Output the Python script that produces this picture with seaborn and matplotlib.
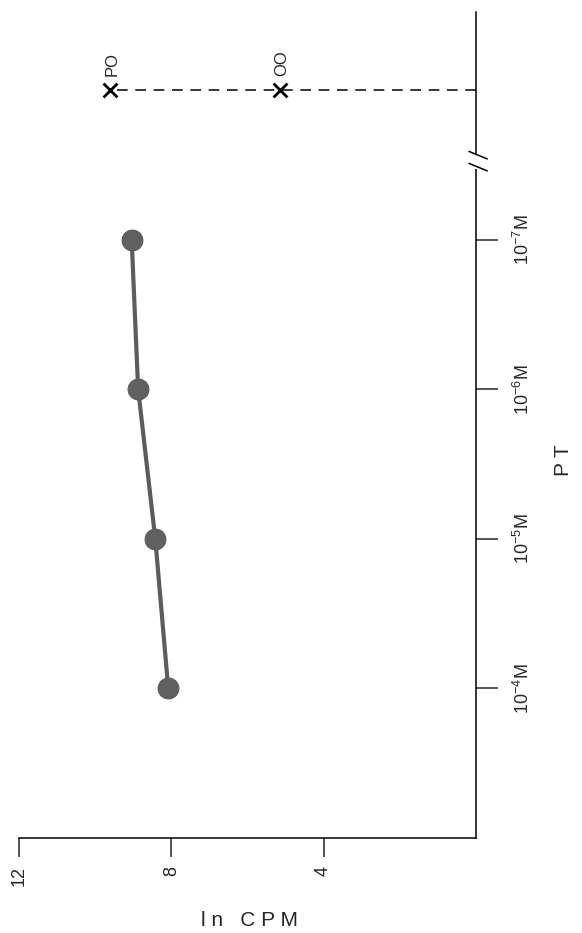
import numpy as np
import pandas as pd
import seaborn as sns
import matplotlib.pyplot as plt

# PT concentration (as -log10 M) and ln CPM
pt_exp = [4, 5, 6, 7]
pt_labels = ["$10^{-4}$M", "$10^{-5}$M", "$10^{-6}$M", "$10^{-7}$M"]
ln_cpm = [8.08, 8.42, 8.87, 9.04]

# controls placed beyond the axis break
ctrl_names = ["PO", "OO"]
ctrl_cpm = [9.6, 5.14]
ctrl_pos = 8.0
break_pos = 7.52

cpm_ticks = [12, 8, 4]

sns.set_style("white")
plt.rcParams['font.family'] = ['Liberation Sans', 'DejaVu Sans']
plt.rcParams['mathtext.fontset'] = 'custom'
plt.rcParams['mathtext.rm'] = 'Liberation Sans'
plt.rcParams['mathtext.it'] = 'Liberation Sans'

fig = plt.figure(figsize=(5.82, 9.33), dpi=100)
ax = fig.add_axes([0.0326, 0.1018, 0.785, 0.885])

df = pd.DataFrame({"ln_cpm": ln_cpm, "pt": pt_exp})
sns.lineplot(data=df, x="ln_cpm", y="pt", sort=False, orient="y", ax=ax,
             color="#5c5c5c", linewidth=3, marker="o", markersize=15,
             markeredgecolor="#5c5c5c", markerfacecolor="#606060")

# controls: X markers joined by a dashed line to the axis
ax.hlines(ctrl_pos, 0, max(ctrl_cpm), colors="black", linewidth=1.1,
          linestyles=(0, (7, 5)))
cdf = pd.DataFrame({"ln_cpm": ctrl_cpm, "pt": [ctrl_pos] * len(ctrl_cpm)})
sns.scatterplot(data=cdf, x="ln_cpm", y="pt", marker="x", s=100,
                color="black", linewidth=2.0, ax=ax, zorder=5)
for name, v in zip(ctrl_names, ctrl_cpm):
    ax.annotate(name, (v, ctrl_pos), xytext=(1, 10), textcoords="offset points",
                rotation=90, ha="center", va="bottom", fontsize=12)

ax.set_xlim(12, 0)
ax.set_ylim(3.0, 8.52)

ax.spines["top"].set_visible(False)
ax.spines["left"].set_visible(False)
for s in ["bottom", "right"]:
    ax.spines[s].set_linewidth(1.1)
    ax.spines[s].set_color("black")

ax.set_xticks(cpm_ticks)
ax.set_xticklabels([str(t) for t in cpm_ticks], rotation=90, fontsize=13)
ax.yaxis.tick_right()
ax.set_yticks(pt_exp)
ax.set_yticklabels(pt_labels, rotation=90, va="center", fontsize=13)
ax.tick_params(axis="x", direction="out", length=14, width=1.1, pad=6,
               bottom=True)
ax.tick_params(axis="y", direction="out", length=16, width=1.1, pad=11,
               right=True, left=False)

ax.set_xlabel("l n   C P M", fontsize=15)
ax.xaxis.set_label_coords(0.505, -0.088)
ax.yaxis.set_label_position("right")
ax.set_ylabel("P T", fontsize=15, rotation=90)
ax.yaxis.set_label_coords(1.17, 0.458)

# axis break on the PT axis
trans = ax.get_yaxis_transform()
ax.plot([1, 1], [break_pos - 0.035, break_pos + 0.035], transform=trans,
        color="white", linewidth=3, clip_on=False, zorder=6)
for off in [0.04, -0.04]:
    ax.plot([0.985, 1.025], [break_pos + off + 0.03, break_pos + off - 0.02],
            transform=trans, color="black", linewidth=1.1, clip_on=False,
            zorder=7)

fig.savefig("out.png", dpi=100, facecolor="white")
